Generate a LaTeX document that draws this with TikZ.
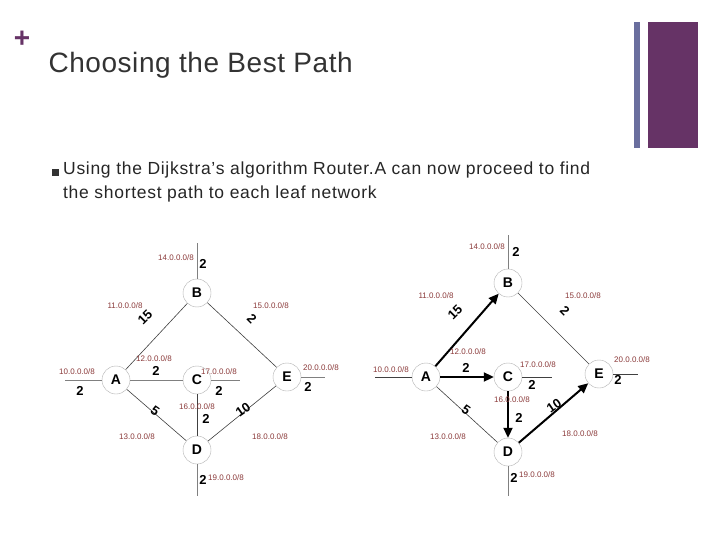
\documentclass[tikz,border=0pt]{standalone}
\usepackage{fontspec}
\setmainfont{Liberation Sans}
\usetikzlibrary{arrows.meta}
\definecolor{plum}{HTML}{663366}
\definecolor{slate}{HTML}{6A6E9E}
\definecolor{lbl}{HTML}{8B3A3A}
\tikzset{
 rt/.style={circle,draw=gray!60,fill=white,minimum size=28pt,inner sep=0pt,font=\bfseries\fontsize{14}{14}\selectfont},
 net/.style={font=\fontsize{8}{8}\selectfont,text=lbl,inner sep=0pt},
 wt/.style={font=\bfseries\fontsize{13}{13}\selectfont,inner sep=0pt},
 ln/.style={draw=black!75,line width=0.6pt},
 stub/.style={draw=gray,line width=1pt},
 sp/.style={draw=black,line width=2pt,-{Triangle[length=10pt,width=9pt]}}
}
\begin{document}
\begin{tikzpicture}[x=1pt,y=-1pt]
\useasboundingbox (0,0) rectangle (720,540);
\fill[white] (0,0) rectangle (720,540);
\node[text=plum,font=\bfseries\fontsize{28}{28}\selectfont] (plus) at (22,39) {+};
\node[anchor=base west,text=black!80,font=\fontsize{28}{30}\selectfont\addfontfeatures{LetterSpace=2}] (title) at (45,73) {Choosing the Best Path};
\fill[slate] (634,22) rectangle (640,148);
\fill[plum] (648,22) rectangle (698,148);
\node[fill=black!80,minimum size=7pt,inner sep=0pt] (bul) at (55,173) {};
\node[anchor=north west,align=left,text=black!85,font=\fontsize{17.5}{24}\selectfont\addfontfeatures{LetterSpace=4},inner sep=0pt] (txt) at (63,162) {Using the Dijkstra’s algorithm Router.A can now proceed to find\\the shortest path to each leaf network};
% ---------- left graph
\begin{scope}
\coordinate (sa) at (65,380); \coordinate (sb) at (197,243); \coordinate (sc) at (240,380);
\coordinate (se) at (325,377); \coordinate (sd) at (197,496);
\node[rt] (A) at (116,380) {A};
\node[rt] (B) at (197,293) {B};
\node[rt] (C) at (197,380) {C};
\node[rt] (D) at (197,450) {D};
\node[rt] (E) at (287,377) {E};
\draw[stub] (A) -- (sa); \draw[stub] (B) -- (sb); \draw[stub] (C) -- (sc);
\draw[stub] (E) -- (se); \draw[stub] (D) -- (sd);
\draw[ln] (A) -- (B); \draw[ln] (B) -- (E); \draw[stub] (A) -- (C);
\draw[ln] (A) -- (D); \draw[ln] (C) -- (D); \draw[ln] (D) -- (E);
\node[net] (l1) at (176,258) {14.0.0.0/8}; \node[wt] (w1) at (203,264) {2};
\node[net] (l2) at (125,306) {11.0.0.0/8}; \node[wt,rotate=45] (w2) at (145,317) {15};
\node[net] (l3) at (271,306) {15.0.0.0/8}; \node[wt,rotate=-45] (w3) at (252,319) {2};
\node[net] (l4) at (154,359) {12.0.0.0/8}; \node[wt] (w4) at (156,371) {2};
\node[net] (l5) at (77,372) {10.0.0.0/8}; \node[wt] (w5) at (80,391) {2};
\node[net] (l6) at (219,372) {17.0.0.0/8}; \node[wt] (w6) at (219,391) {2};
\node[net] (l7) at (321,368) {20.0.0.0/8}; \node[wt] (w7) at (308,387) {2};
\node[net] (l8) at (197,407) {16.0.0.0/8}; \node[wt] (w8) at (206,419) {2};
\node[wt,rotate=-35] (w9) at (155,411) {5}; \node[net] (l9) at (137,437) {13.0.0.0/8};
\node[wt,rotate=35] (w10) at (243,410) {10}; \node[net] (l10) at (270,437) {18.0.0.0/8};
\node[wt] (w11) at (203,480) {2}; \node[net] (l11) at (226,478) {19.0.0.0/8};
\end{scope}
% ---------- right graph
\begin{scope}
\coordinate (ta) at (375,377); \coordinate (tb) at (508,235); \coordinate (tc) at (552,377);
\coordinate (te) at (638,374); \coordinate (td) at (508,496);
\node[rt] (A2) at (426,377) {A};
\node[rt] (B2) at (508,283) {B};
\node[rt] (C2) at (508,377) {C};
\node[rt] (D2) at (508,452) {D};
\node[rt] (E2) at (599,374) {E};
\draw[ln] (A2) -- (ta); \draw[stub] (B2) -- (tb); \draw[ln] (C2) -- (tc);
\draw[ln] (E2) -- (te); \draw[stub] (D2) -- (td);
\draw[sp] (A2) -- (B2); \draw[ln] (B2) -- (E2); \draw[sp] (A2) -- (C2);
\draw[ln] (A2) -- (D2); \draw[sp] (C2) -- (D2); \draw[sp] (D2) -- (E2);
\node[net] (m1) at (487,247) {14.0.0.0/8}; \node[wt] (v1) at (516,252) {2};
\node[net] (m2) at (436,296) {11.0.0.0/8}; \node[wt,rotate=45] (v2) at (455,312) {15};
\node[net] (m3) at (583,296) {15.0.0.0/8}; \node[wt,rotate=-45] (v3) at (565,311) {2};
\node[net] (m4) at (468,352) {12.0.0.0/8}; \node[wt] (v4) at (466,368) {2};
\node[net] (m5) at (391,370) {10.0.0.0/8};
\node[net] (m6) at (538,365) {17.0.0.0/8}; \node[wt] (v6) at (532,385) {2};
\node[net] (m7) at (632,360) {20.0.0.0/8}; \node[wt] (v7) at (618,380) {2};
\node[net] (m8) at (512,400) {16.0.0.0/8}; \node[wt] (v8) at (519,418) {2};
\node[wt,rotate=-35] (v9) at (466,410) {5}; \node[net] (m9) at (448,437) {13.0.0.0/8};
\node[wt,rotate=35] (v10) at (554,406) {10}; \node[net] (m10) at (580,434) {18.0.0.0/8};
\node[wt] (v11) at (514,478) {2}; \node[net] (m11) at (537,475) {19.0.0.0/8};
\end{scope}
\end{tikzpicture}
\end{document}
